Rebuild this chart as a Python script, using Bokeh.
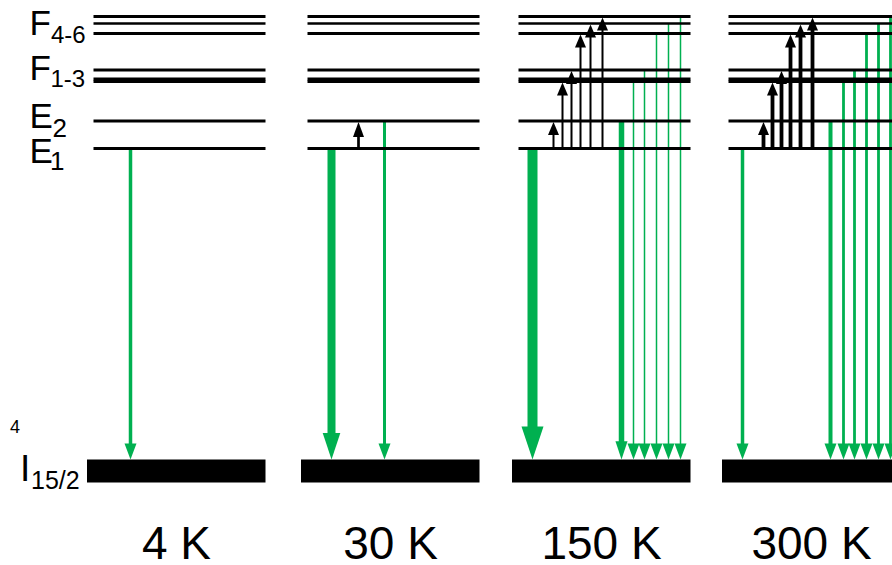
from bokeh.plotting import figure
from bokeh.models import Range1d, ColumnDataSource
from bokeh.embed import file_html
from bokeh.resources import INLINE
from bokeh.core.properties import value

# ---------------------------------------------------------------------------
# Data: Er3+ crystal-field levels and the transitions seen at each temperature
# ---------------------------------------------------------------------------
temperatures = ["4 K", "30 K", "150 K", "300 K"]

# excited-state sublevels (energy above the 4I15/2 ground manifold, arb. units)
level_names = ["E1", "E2", "F1", "F2", "F3", "F4", "F5", "F6"]
level_energy = [311, 338.5, 378, 380.5, 389.5, 426, 436, 443]

# thermal (upward) population transfer out of E1
up_panel = [1, 2, 2, 2, 2, 2, 2, 3, 3, 3, 3, 3, 3]
up_to = ["E2", "E2", "F1", "F3", "F4", "F5", "F6", "E2", "F1", "F3", "F4", "F5", "F6"]
up_weight = [2.7, 2, 2, 2, 2, 2, 2, 3.8, 3.8, 3.8, 3.8, 3.8, 3.8]

# green emission down to the ground manifold
down_panel = [0, 1, 1, 2, 2, 2, 2, 2, 2, 2, 3, 3, 3, 3, 3, 3, 3]
down_from = ["E1", "E1", "E2",
             "E1", "E2", "F1", "F3", "F4", "F5", "F6",
             "E1", "E2", "F1", "F3", "F4", "F5", "F6"]
down_weight = [3.5, 8, 3,
               10, 5.5, 1.5, 1.5, 1.5, 1.5, 1.5,
               3.5, 4, 2.8, 2.8, 2.8, 2.8, 2.8]

# ---------------------------------------------------------------------------
# Layout
# ---------------------------------------------------------------------------
W, H = 892, 565
panel_left = [93, 307, 518, 728]
LEVEL_LEN = 172
BAR_PAD = 6.5
BAR_H = 23
level_lw = [2.8, 2.8, 3.0, 3.0, 3.0, 3.0, 2.6, 3.0]

# horizontal slot of every arrow inside its panel
up_x = [51, 35, 44, 53, 62, 72, 84, 35, 44, 53, 62, 72, 84]
down_x = [37, 24, 77,
          14, 103, 115, 126, 138, 150, 162,
          14, 102, 115, 126, 138, 150, 162]

GREEN = "#00B050"
FONT = value("Liberation Sans")
E = dict(zip(level_names, level_energy))

p = figure(width=W, height=H, output_backend="svg", toolbar_location=None,
           x_range=Range1d(0, W), y_range=Range1d(-(H - 459), 459),
           x_axis_type=None, y_axis_type=None, min_border=0,
           outline_line_color=None, background_fill_color="white",
           border_fill_color="white")
p.grid.visible = False

# --- green emission arrows -------------------------------------------------
sx, sy0, sy1, sw = [], [], [], []
hx, hy = [], []
for pan, lev, w, off in zip(down_panel, down_from, down_weight, down_x):
    x = panel_left[pan] + off
    hw = max(12, 2.2 * w)
    hl = max(16, 3.3 * w)
    sx.append(x)
    sy0.append(E[lev])
    sy1.append(hl - 1)
    sw.append(w)
    hx.append([x - hw / 2, x + hw / 2, x])
    hy.append([hl, hl, 0])
p.segment(x0="x", y0="y0", x1="x", y1="y1", line_width="w", line_color=GREEN,
          line_cap="butt",
          source=ColumnDataSource(dict(x=sx, y0=sy0, y1=sy1, w=sw)))
p.patches(xs=hx, ys=hy, fill_color=GREEN, line_color=None)

# --- energy levels -----------------------------------------------------------
lx0, lx1, ly, llw = [], [], [], []
for x0 in panel_left:
    for en, lw in zip(level_energy, level_lw):
        lx0.append(x0)
        lx1.append(x0 + LEVEL_LEN)
        ly.append(en)
        llw.append(lw)
p.segment(x0="x0", y0="y", x1="x1", y1="y", line_width="lw", line_color="black",
          line_cap="butt",
          source=ColumnDataSource(dict(x0=lx0, x1=lx1, y=ly, lw=llw)))

# ground manifold bars
p.quad(left=[x - BAR_PAD for x in panel_left],
       right=[x + LEVEL_LEN for x in panel_left],
       bottom=[-BAR_H] * 4, top=[0] * 4,
       fill_color="black", line_color=None)

# --- black upward arrows ------------------------------------------------------
bx, by0, by1, bw = [], [], [], []
bhx, bhy = [], []
for pan, lev, w, off in zip(up_panel, up_to, up_weight, up_x):
    x = panel_left[pan] + off
    tip = E[lev] - 1
    hl = 15 if pan == 1 else 13
    hw = 11
    bx.append(x)
    by0.append(E["E1"])
    by1.append(tip - hl + 1)
    bw.append(w)
    bhx.append([x - hw / 2, x + hw / 2, x])
    bhy.append([tip - hl, tip - hl, tip])
p.segment(x0="x", y0="y0", x1="x", y1="y1", line_width="w", line_color="black",
          line_cap="butt",
          source=ColumnDataSource(dict(x=bx, y0=by0, y1=by1, w=bw)))
p.patches(xs=bhx, ys=bhy, fill_color="black", line_color=None)

# --- level labels ---------------------------------------------------------------
def label(x, y, s, size, align="left"):
    # y is the glyph baseline; the svg text box sits lower, so lift it
    px = float(size.rstrip("px"))
    p.text(x=[x], y=[y + 0.365 * px], text=[s], text_font=FONT,
           text_font_size=size, text_color="black", text_align=align,
           text_baseline="alphabetic")

label(29, E["F4"] - 2, "F", "35px")
label(50.5, E["F4"] - 10, "4-6", "24px")
label(29, E["F1"] + 1.5, "F", "35px")
label(50, E["F1"] - 6, "1-3", "24px")
label(29, E["E2"] - 7.5, "E", "35px")
label(52, E["E2"] - 16.5, "2", "26px")
label(29, E["E1"] - 15, "E", "35px")
label(49.5, E["E1"] - 22, "1", "26px")

# ground manifold 4I15/2
label(9.5, 26, "4", "18px")
label(19.5, -BAR_H, "I", "37px")
label(30.5, -30, "15/2", "25px")

# temperature labels
for x0, t in zip(panel_left, temperatures):
    label(x0 + LEVEL_LEN / 2 - 3, -100, t, "46px", align="center")

open("out.html", "w").write(file_html(p, INLINE))
